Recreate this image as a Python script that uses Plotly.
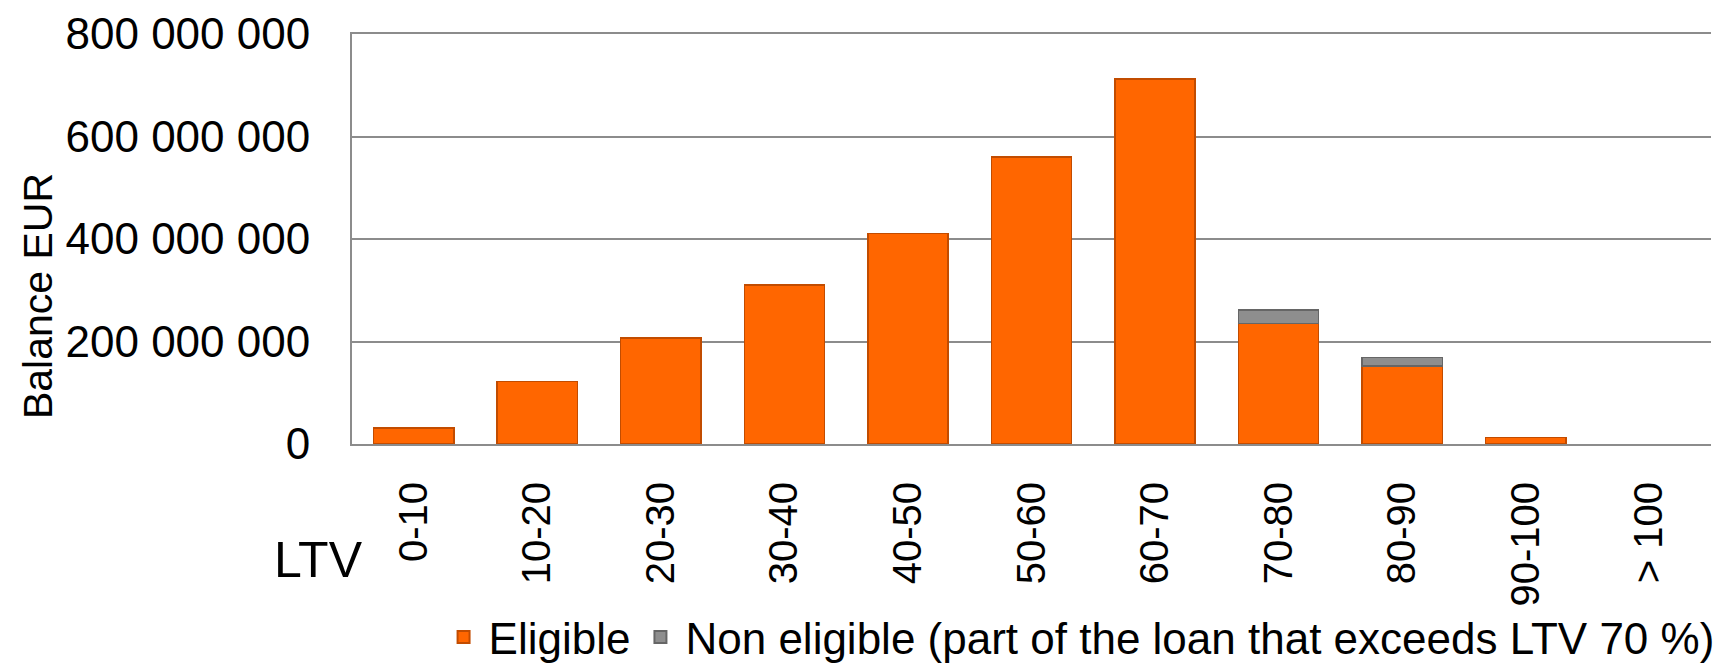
import plotly.graph_objects as go

categories = ["0-10", "10-20", "20-30", "30-40", "40-50", "50-60", "60-70", "70-80", "80-90", "90-100", "> 100"]
eligible = [31e6, 122e6, 207e6, 310e6, 411e6, 560e6, 712e6, 235e6, 152e6, 13e6, None]
non_eligible = [None, None, None, None, None, None, None, 26e6, 17e6, None, None]
y_ticks = [0, 200e6, 400e6, 600e6, 800e6]

FONT = "Liberation Sans"
# page body has an 8px margin, so the figure is drawn 8px smaller and offset
W, H = 1718, 657
L, R, T, B = 344, 15, 26, 221

fig = go.Figure()
fig.add_trace(go.Bar(
    x=categories, y=eligible, name="Eligible",
    marker=dict(color="#FF6600", line=dict(color="#C24C00", width=1.5)),
))
fig.add_trace(go.Bar(
    x=categories, y=non_eligible, name="Non eligible (part of the loan that exceeds LTV 70 %)",
    marker=dict(color="#8E8E8E", line=dict(color="#666666", width=1.5)),
))

fig.update_layout(
    width=W, height=H,
    barmode="stack", bargap=0.35,
    separators=", ",
    plot_bgcolor="white", paper_bgcolor="white",
    margin=dict(l=L, r=R, t=T, b=B, pad=0, autoexpand=False),
    font=dict(family=FONT, size=43, color="black"),
    showlegend=True,
    legend=dict(orientation="h", x=0.535, xanchor="center",
                yref="container", y=0.042, yanchor="middle",
                font=dict(size=44), itemsizing="constant", traceorder="normal",
                itemwidth=40, bgcolor="rgba(0,0,0,0)"),
    annotations=[
        dict(text="LTV", x=-0.025, y=-0.283, xref="paper", yref="paper",
             xanchor="center", yanchor="middle", showarrow=False, font=dict(size=50)),
        dict(text="Balance EUR", x=-0.231, y=0.361, xref="paper", yref="paper",
             xanchor="center", yanchor="middle", showarrow=False, textangle=-90,
             font=dict(size=41)),
    ],
)
fig.update_yaxes(
    range=[0, 800e6], tickvals=y_ticks, tickformat=",d",
    showgrid=True, gridcolor="#8C8C8C", gridwidth=2,
    showline=True, linecolor="#8C8C8C", linewidth=2,
    zeroline=False, ticks="", ticklabelstandoff=31,
    tickfont=dict(size=44), automargin=False,
)
fig.update_xaxes(
    tickangle=-90, showline=True, mirror=True, linecolor="#8C8C8C", linewidth=2,
    ticks="", ticklabelstandoff=20, tickfont=dict(size=40), automargin=False,
)

fig.write_html("out.html")
